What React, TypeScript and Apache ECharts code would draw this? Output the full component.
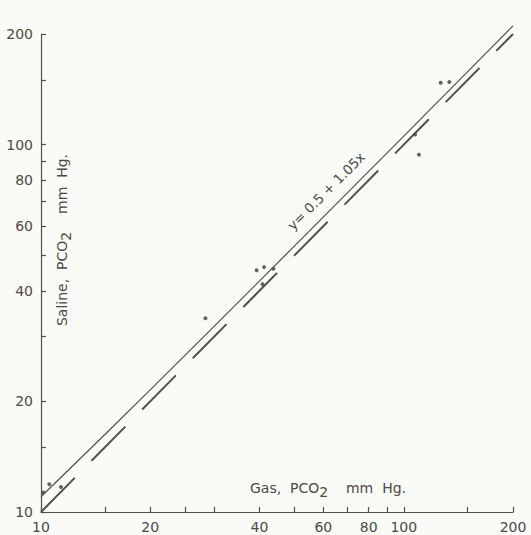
import React, { useEffect, useRef } from "react";
import * as echarts from "echarts";

// Measured CO2 tension pairs (mm Hg): gas phase vs. saline
const gasPco2 = [10.15, 10.54, 11.35, 28.4, 39.3, 40.8, 41.2, 43.7, 107.4, 110.1, 126.4, 133.5];
const salinePco2 = [11.3, 11.9, 11.7, 33.7, 45.5, 41.7, 46.4, 45.9, 106.5, 93.9, 147.3, 148.0];

// Regression y = 0.5 + 1.05x
const fitIntercept = 0.5;
const fitSlope = 1.05;
const fitXs = [10, 15, 20, 30, 50, 70, 100, 150, 200];

// Line of identity end points
const identityEnds = [10, 200];

// Axis ticks and labels
const xTickValues = [10, 15, 20, 25, 30, 40, 50, 60, 70, 80, 90, 100, 150, 200];
const yTickValues = [10, 15, 20, 30, 40, 50, 60, 70, 80, 90, 100, 150, 200];
const xLabelValues = [10, 20, 40, 60, 80, 100, 200];
const yLabelValues = [10, 20, 40, 60, 80, 100, 200];

const INK = "#505050";
const TEXT = "#4a4a4a";
const FONT = "DejaVu Sans";
const BG = "#fafaf6";

export default function App() {
  const ref = useRef<HTMLDivElement>(null);

  useEffect(() => {
    document.body.style.margin = "0";
    const chart = echarts.init(ref.current!, undefined, { renderer: "svg" });

    const points = gasPco2.map((x, i) => [x, salinePco2[i]]);
    const fitLine = fitXs.map((x) => [x, fitIntercept + fitSlope * x]);
    const identity = identityEnds.map((v) => [v, v]);

    const axisCommon = {
      type: "log",
      logBase: 10,
      min: 10,
      max: 200,
      axisLine: { show: true, lineStyle: { color: INK, width: 1.2 } },
      splitLine: { show: false },
      minorTick: { show: false },
    };

    const nameRich = {
      a: { fontSize: 14, fontFamily: FONT, fill: TEXT, lineHeight: 22, verticalAlign: "middle" },
      s: { fontSize: 14, fontFamily: FONT, fill: TEXT, lineHeight: 12, verticalAlign: "bottom" },
    };

    chart.setOption({
      animation: false,
      backgroundColor: BG,
      grid: { left: 41, right: 18, top: 34, bottom: 23 },
      xAxis: {
        ...axisCommon,
        axisTick: { show: true, inside: true, length: 5, customValues: xTickValues, lineStyle: { color: INK, width: 1.2 } },
        axisLabel: {
          customValues: xLabelValues,
          formatter: (v: number) => String(Math.round(v)),
          fontSize: 14,
          fontFamily: FONT,
          color: TEXT,
          margin: 8,
        },
      },
      yAxis: {
        ...axisCommon,
        axisTick: { show: true, inside: true, length: 5, customValues: yTickValues, lineStyle: { color: INK, width: 1.2 } },
        axisLabel: {
          customValues: yLabelValues,
          formatter: (v: number) => String(Math.round(v)),
          fontSize: 14,
          fontFamily: FONT,
          color: TEXT,
          margin: 8,
        },
      },
      series: [
        {
          name: "identity",
          type: "line",
          data: identity,
          symbol: "none",
          clip: false,
          lineStyle: { color: INK, width: 2, type: [48, 24] },
        },
        {
          name: "fit",
          type: "line",
          data: fitLine,
          symbol: "none",
          clip: false,
          lineStyle: { color: INK, width: 1.2 },
        },
        {
          name: "observations",
          type: "scatter",
          data: points,
          symbol: "circle",
          symbolSize: 4,
          itemStyle: { color: "#3c3c3c" },
        },
      ],
      graphic: [
        {
          type: "text",
          x: 326,
          y: 191,
          rotation: Math.PI / 4,
          style: {
            text: "y= 0.5 + 1.05x",
            fontSize: 13.5,
            fontFamily: FONT,
            fill: TEXT,
            align: "center",
            verticalAlign: "middle",
          },
        },
        {
          type: "text",
          x: 328,
          y: 488,
          style: {
            text: "{a|Gas,  PCO}{s|2}{a|    mm  Hg.}",
            rich: nameRich,
            align: "center",
            verticalAlign: "middle",
          },
        },
        {
          type: "text",
          x: 62,
          y: 240,
          rotation: Math.PI / 2,
          style: {
            text: "{a|Saline,  PCO}{s|2}{a|    mm  Hg.}",
            rich: nameRich,
            align: "center",
            verticalAlign: "middle",
          },
        },
      ],
    });

    return () => chart.dispose();
  }, []);

  return <div ref={ref} style={{ width: 531, height: 535, background: BG }} />;
}
